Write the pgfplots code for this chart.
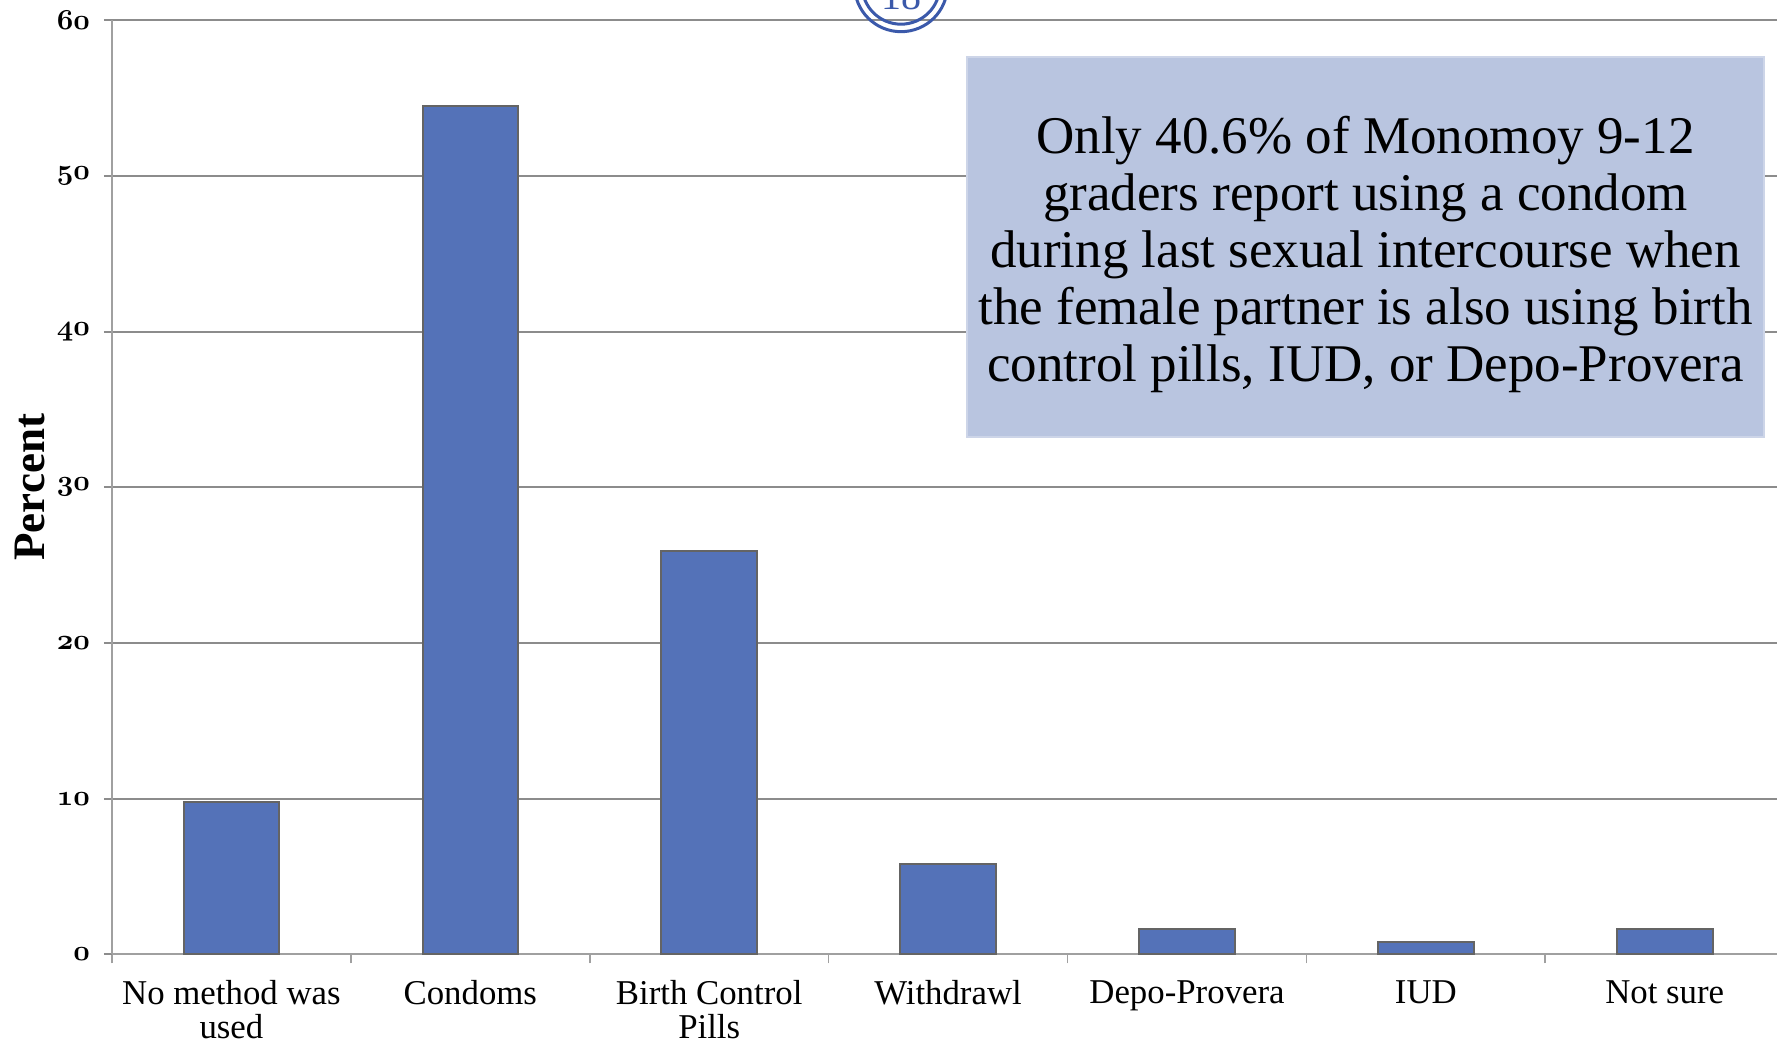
\documentclass[border=0pt]{standalone}
\usepackage{fontspec}
\setmainfont{Liberation Serif}
\usepackage{pgfplots}
\pgfplotsset{compat=1.18}
\definecolor{barblue}{RGB}{84,114,184}
\definecolor{baredge}{RGB}{100,100,100}
\definecolor{gridgray}{RGB}{140,140,140}
\definecolor{axisgray}{RGB}{160,160,160}
\definecolor{boxblue}{RGB}{185,197,224}
\definecolor{boxedge}{RGB}{205,213,232}
\definecolor{ringblue}{RGB}{59,89,170}
\newcommand\osn[1]{{\usefont{OML}{cmm}{b}{it}#1}}
\begin{document}
\begin{tikzpicture}
\useasboundingbox (0,0) rectangle (888.5pt,522pt);
\clip (0,0) rectangle (888.5pt,522pt);
\begin{axis}[
  scale only axis, width=832.5pt, height=467pt,
  at={(56pt,44.85pt)}, anchor=south west,
  xmin=-0.5, xmax=6.47, ymin=0, ymax=60,
  axis x line*=bottom, axis y line*=left,
  axis line style={-, draw=axisgray, line width=1pt},
  xtick pos=bottom, ytick pos=left,
  tick align=outside,
  ytick={0,10,20,30,40,50,60},
  yticklabels={\osn{0},\osn{10},\osn{20},\osn{30},\osn{40},\osn{50},\osn{60}},
  yticklabel style={font=\fontsize{15.5}{17}\selectfont, anchor=east, xshift=-3.5pt},
  major y tick style={draw=gridgray, line width=1pt},
  major tick length=4pt,
  ymajorgrids,
  major grid style={draw=gridgray, line width=1pt},
  xtick={0,1,2,3,4,5,6},
  xticklabels={{No method was\\used},Condoms,{Birth Control\\Pills},Withdrawl,Depo-Provera,IUD,Not sure},
  xticklabel style={font=\fontsize{17.4}{17.2}\selectfont, align=center, anchor=north, yshift=-5.5pt},
  major x tick style={draw=none},
  minor xtick={-0.5,0.5,1.5,2.5,3.5,4.5,5.5},
  minor x tick style={draw=axisgray, line width=0.8pt},
  minor tick length=4.5pt,
  ylabel={\textbf{Percent}},
  ylabel style={font=\fontsize{22.5}{25}\selectfont, at={(axis description cs:-0.04955,0.5)}, anchor=center},
  ybar, bar width=0.4,
  clip=false,
]
\addplot[fill=barblue, draw=baredge, line width=1pt] coordinates {
  (0,9.8) (1,54.5) (2,25.9) (3,5.8) (4,1.6) (5,0.8) (6,1.6)
};
\end{axis}
\node[fill=boxblue, draw=boxedge, line width=0.6pt, minimum width=398.5pt, minimum height=190pt, inner sep=0pt] at (682.75pt,398.5pt) {};
\node[align=center, inner sep=0pt, font=\fontsize{26.5}{28.5}\selectfont] at (682.75pt,395pt)
  {Only 40.6\% of Monomoy 9-12\\graders report using a condom\\during last sexual intercourse when\\the female partner is also using birth\\control pills, IUD, or Depo-Provera};
\draw[ringblue, line width=1.5pt] (450.5pt,529.4pt) circle (23.25pt);
\draw[ringblue, line width=1.5pt] (450.5pt,529.4pt) circle (19.5pt);
\node[ringblue, font=\fontsize{20}{22}\selectfont] at (450.5pt,524pt) {18};
\end{tikzpicture}
\end{document}
